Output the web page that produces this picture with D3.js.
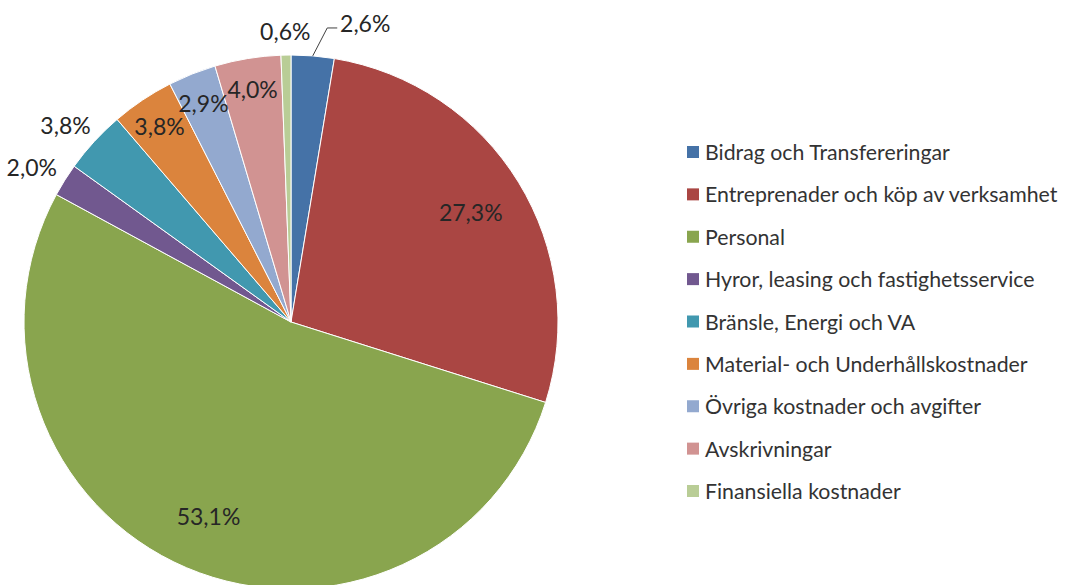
<!DOCTYPE html>
<html lang="sv">
<head>
<meta charset="UTF-8">
<title>Kostnadsfördelning</title>
<script src="https://cdn.jsdelivr.net/npm/d3@7"></script>
<style>
  html, body { margin: 0; padding: 0; background: #fff; overflow: hidden; }
  svg { display: block; font-family: Lato, "Open Sans", sans-serif; }
</style>
</head>
<body>
<script>
// ---- data ----
const categories = [
  "Bidrag och Transfereringar",
  "Entreprenader och köp av verksamhet",
  "Personal",
  "Hyror, leasing och fastighetsservice",
  "Bränsle, Energi och VA",
  "Material- och Underhållskostnader",
  "Övriga kostnader och avgifter",
  "Avskrivningar",
  "Finansiella kostnader"
];
const values = [2.6, 27.3, 53.1, 2.0, 3.8, 3.8, 2.9, 4.0, 0.6];
const labelText = ["2,6%", "27,3%", "53,1%", "2,0%", "3,8%", "3,8%", "2,9%", "4,0%", "0,6%"];
// where Excel put each label: inside or outside the pie
const labelOutside = [true, false, false, true, true, false, false, false, true];
const colors = ["#4572A7", "#AA4643", "#89A54E", "#71588F", "#4198AF",
                "#DB843D", "#93A9CF", "#D19392", "#B9CD96"];

const width = 1067, height = 585;
const cx = 291, cy = 322, R = 267;

const svg = d3.select("body").append("svg")
  .attr("width", width).attr("height", height);

const pie = d3.pie().sort(null).value(d => d);
const arcs = pie(values);
const arc = d3.arc().innerRadius(0).outerRadius(R);

const g = svg.append("g").attr("transform", `translate(${cx},${cy})`);

g.selectAll("path.slice")
  .data(arcs)
  .enter().append("path")
  .attr("class", "slice")
  .attr("d", arc)
  .attr("fill", (d, i) => colors[i])
  .attr("stroke", "#fff")
  .attr("stroke-width", 1);

// ---- labels ----
const fs = 23;
const labels = arcs.map((d, i) => {
  const a = (d.startAngle + d.endAngle) / 2;
  const s = Math.sin(a), c = -Math.cos(a);
  let x, y;
  if (!labelOutside[i]) {
    const r = values[i] > 10 ? R * 0.79 : R * 0.885;
    x = r * s; y = r * c;
  } else {
    const r = R + 13;
    x = r * s + s * 26;
    y = r * c + c * 11;
  }
  return { i, a, x, y, w: 50, out: labelOutside[i], leader: false };
});

// push overlapping outside labels apart (rightmost one moves right)
const outs = labels.filter(l => l.out);
outs.forEach(l1 => outs.forEach(l2 => {
  if (l1 === l2) return;
  if (l1.x < l2.x && Math.abs(l1.y - l2.y) < 20 && l2.x - l1.x < l1.w) {
    l2.x = l1.x + l1.w + 30;
    l2.y -= 9;
    l2.leader = true;
  }
}));

labels.filter(l => l.leader).forEach(l => {
  const ex = R * Math.sin(l.a), ey = -R * Math.cos(l.a);
  const lx = l.x - l.w / 2 - 3;
  g.append("polyline")
    .attr("points", [[ex, ey], [lx - 10, l.y + 5], [lx, l.y + 5]].map(p => p.join(",")).join(" "))
    .attr("fill", "none")
    .attr("stroke", "#404040")
    .attr("stroke-width", 1);
});

g.selectAll("text.lbl")
  .data(labels)
  .enter().append("text")
  .attr("class", "lbl")
  .attr("x", d => d.x)
  .attr("y", d => d.y)
  .attr("text-anchor", "middle")
  .attr("dominant-baseline", "central")
  .attr("font-size", fs)
  .attr("fill", "#262626")
  .text(d => labelText[d.i]);

// ---- legend ----
const legendY = d3.scalePoint().domain(d3.range(categories.length)).range([152, 491]);
const leg = svg.append("g");
const rows = leg.selectAll("g").data(categories).enter().append("g")
  .attr("transform", (d, i) => `translate(687,${legendY(i)})`);
rows.append("rect")
  .attr("x", 0).attr("y", -6).attr("width", 12).attr("height", 12)
  .attr("fill", (d, i) => colors[i]);
rows.append("text")
  .attr("x", 18).attr("y", 0)
  .attr("dominant-baseline", "central")
  .attr("font-size", 21.3)
  .attr("fill", "#333")
  .text(d => d);
</script>
</body>
</html>
